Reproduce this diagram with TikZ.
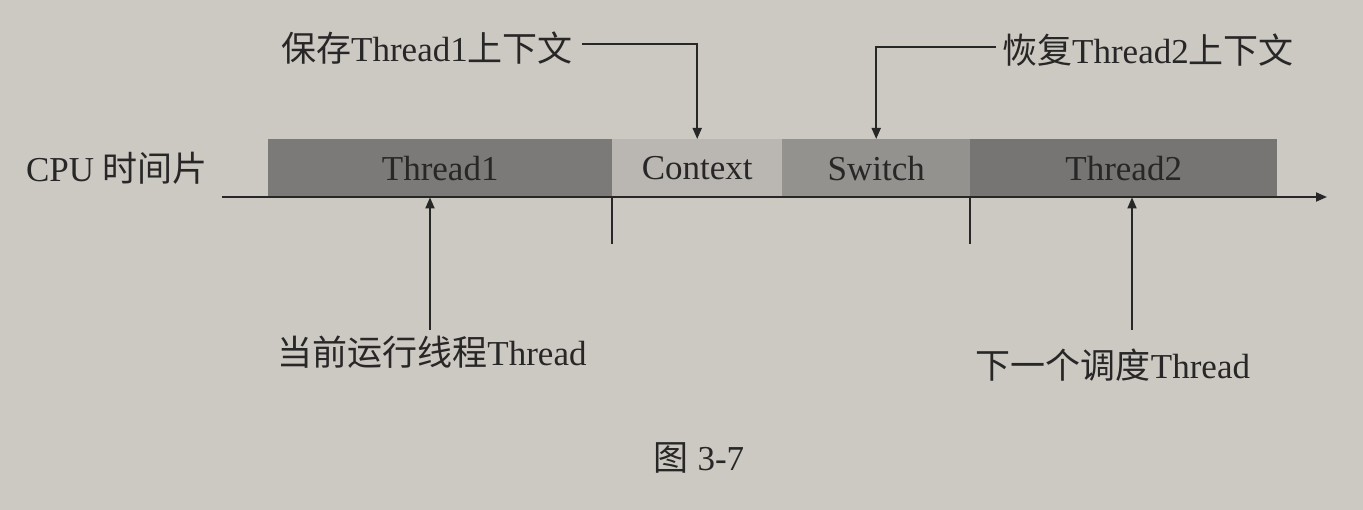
\documentclass[tikz,border=0pt]{standalone}
\usepackage{fontspec}
\setmainfont{Liberation Serif}
\newfontfamily\cjk{Noto Sans CJK SC}
\usetikzlibrary{arrows.meta}
\definecolor{paper}{RGB}{204,200,194}
\definecolor{ink}{RGB}{40,39,39}
\definecolor{darkbar}{RGB}{124,122,120}
\definecolor{lightbar}{RGB}{186,183,178}
\definecolor{midbar}{RGB}{148,146,143}
\definecolor{darkbarb}{RGB}{118,117,115}
\tikzset{
  bar/.style={draw=none, inner sep=0pt, minimum height=58pt, anchor=north west,
    text=ink, font=\fontsize{35}{38}\selectfont},
  lbl/.style={inner sep=0pt, text=ink, font=\fontsize{35}{38}\selectfont},
  conn/.style={draw=ink, line width=1.8pt},
  arr/.style={conn, -{Triangle[length=11pt,width=9pt]}}
}
\begin{document}
\begin{tikzpicture}[x=1pt,y=-1pt]
\fill[paper] (0,0) rectangle (1363,510);
\useasboundingbox (0,0) rectangle (1363,510);
% bars
\node[bar, fill=darkbar, minimum width=344pt] (t1) at (268,139) {Thread1};
\node[bar, fill=lightbar, minimum width=170pt] (ctx) at (612,139) {Context};
\node[bar, fill=midbar, minimum width=188pt] (sw) at (782,139) {Switch};
\node[bar, fill=darkbarb, minimum width=307pt] (t2) at (970,139) {Thread2};
% axis
\coordinate (axs) at (222,197);
\coordinate (axe) at (1327,197);
\draw[arr] (axs) -- (axe);
% ticks
\coordinate (tk1) at (612,244);
\coordinate (tk2) at (970,244);
\draw[conn] (ctx.south west) -- (tk1);
\draw[conn] (t2.south west) -- (tk2);
% labels
\node[lbl] (cpu) at (117,168) {CPU {\cjk 时间片}};
\node[lbl] (save) at (427,48) {{\cjk 保存}Thread1{\cjk 上下文}};
\node[lbl] (rest) at (1148,50) {{\cjk 恢复}Thread2{\cjk 上下文}};
\node[lbl] (cur) at (432,352) {{\cjk 当前运行线程}Thread};
\node[lbl] (nxt) at (1113,365) {{\cjk 下一个调度}Thread};
\node[lbl] (fig) at (699,458) {{\cjk 图} 3-7};
% connectors
\coordinate (s1) at (582,44);
\draw[arr] (s1) -| (ctx.north);
\coordinate (r1) at (996,47);
\draw[arr] (r1) -| (sw.north);
\coordinate (b1) at (430,330);
\draw[arr] (b1) -- (b1 |- t1.south);
\coordinate (b2) at (1132,330);
\draw[arr] (b2) -- (b2 |- t2.south);
\end{tikzpicture}
\end{document}
